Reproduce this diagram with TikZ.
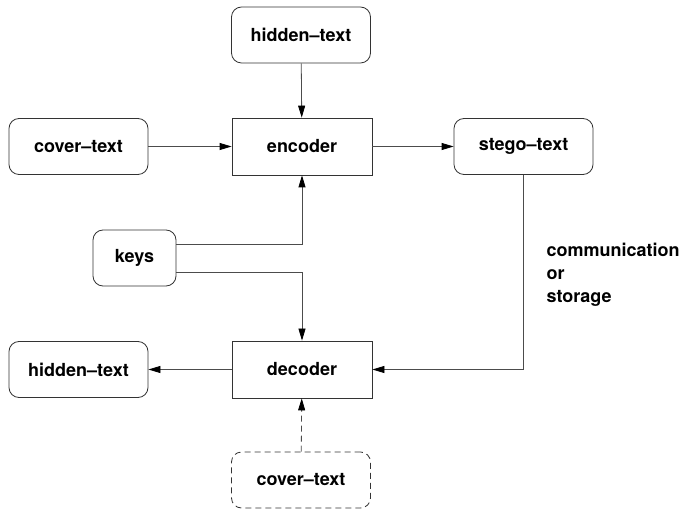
\documentclass[tikz,border=0pt]{standalone}
\usepackage{fontspec}
\setmainfont{TeX Gyre Heros}
\usetikzlibrary{arrows.meta}
\begin{document}
\begin{tikzpicture}[x=1pt,y=-1pt,
  every node/.style={font=\fontsize{18}{23}\selectfont\bfseries},
  rbox/.style={draw=black!80,line width=0.8pt,rounded corners=10pt,minimum width=139pt,minimum height=56pt,inner sep=0pt},
  sbox/.style={draw=black!80,line width=0.8pt,minimum width=140pt,minimum height=57pt,inner sep=0pt},
  arr/.style={draw=black!70,line width=0.8pt,-{Triangle[length=12pt,width=7pt,black]}},
  dsh/.style={dash pattern=on 6pt off 4pt}]
\useasboundingbox (0,0) rectangle (685,510);
\node[rbox] (hid1) at (301,35) {hidden--text};
\node[sbox] (enc) at (302,146.5) {encoder};
\node[rbox] (cov1) at (78.5,146.5) {cover--text};
\node[rbox] (steg) at (523.5,146.5) {stego--text};
\node[rbox,minimum width=83pt] (keys) at (134.5,258) {keys};
\node[sbox] (dec) at (302,369.5) {decoder};
\node[rbox] (hid2) at (78.5,369.5) {hidden--text};
\node[rbox,dsh] (cov2) at (301,480) {cover--text};
\node[anchor=west,align=left] (comm) at (543,275) {communication\\or\\storage};
\draw[arr] (hid1) -- (enc);
\draw[arr] (cov1) -- (enc);
\draw[arr] (enc) -- (steg);
\draw[arr] ([yshift=14pt]keys.east) -| (enc.south);
\draw[arr] ([yshift=-14pt]keys.east) -| (dec.north);
\draw[arr] (steg.south) |- (dec.east);
\draw[arr] (dec) -- (hid2);
\draw[arr,dsh] (cov2) -- (dec);
\end{tikzpicture}
\end{document}
